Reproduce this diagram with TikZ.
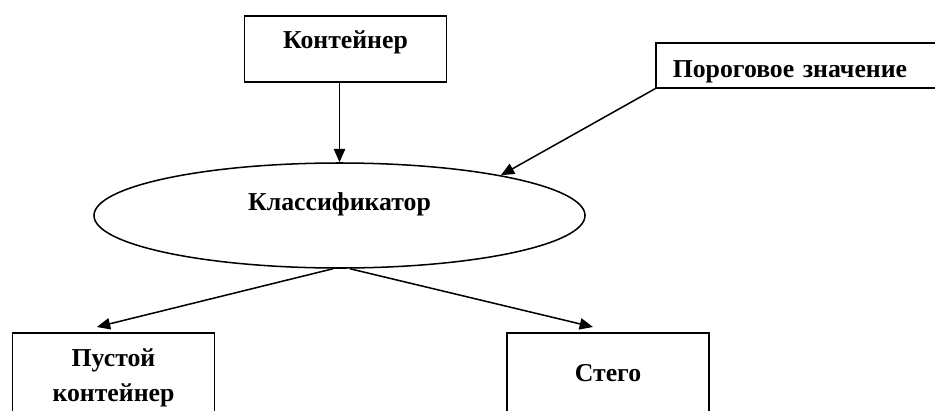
\documentclass[tikz,border=0pt]{standalone}
\usepackage{fontspec}
\setmainfont{Liberation Serif}
\usetikzlibrary{shapes.geometric,arrows.meta}

\begin{document}
\begin{tikzpicture}[x=0.03cm,y=-0.03cm,
  box/.style={draw,line width=1.3pt,inner sep=0pt,minimum width=6.06cm,
    font=\fontsize{22}{30}\selectfont\bfseries},
  oval/.style={draw,ellipse,line width=1.3pt,inner sep=0pt,
    minimum width=14.73cm,minimum height=3.15cm,
    font=\fontsize{22}{30}\selectfont\bfseries},
  link/.style={line width=1.3pt,-{Triangle[length=4mm,width=3.4mm]}}]
\useasboundingbox (0,0) rectangle (935,410);
\clip (0,0) rectangle (935,410);
% blocks
\node[box,minimum height=1.98cm,text height=0.55cm,text depth=0.61cm] (cont) at (345.5,49) {Контейнер};
\node[box,anchor=west,minimum height=1.35cm,text width=8.5cm,inner xsep=0.51cm,align=left,
  text height=0.9cm,text depth=0.21cm] (thr) at (655,65.5) {Пороговое значение};
\node[oval,text height=0.55cm,text depth=0.88cm] (cls) at (339.5,215.5) {Классификатор};
\node[box,anchor=north,minimum height=2.7cm,align=center] (empty) at (113.5,332) {Пустой\\контейнер};
\node[box,anchor=north,minimum height=2.4cm] (stego) at (608,332) {Стего};
% arrows
\draw[link] (cls.north |- cont.south) -- (cls.north);
\draw[link] (thr.south west) -- (cls.14);
\draw[link] (cls.263) -- ([xshift=-0.5cm,yshift=0.15cm]empty.north);
\draw[link] (cls.281) -- ([xshift=-0.45cm,yshift=0.15cm]stego.north);
\end{tikzpicture}
\end{document}
